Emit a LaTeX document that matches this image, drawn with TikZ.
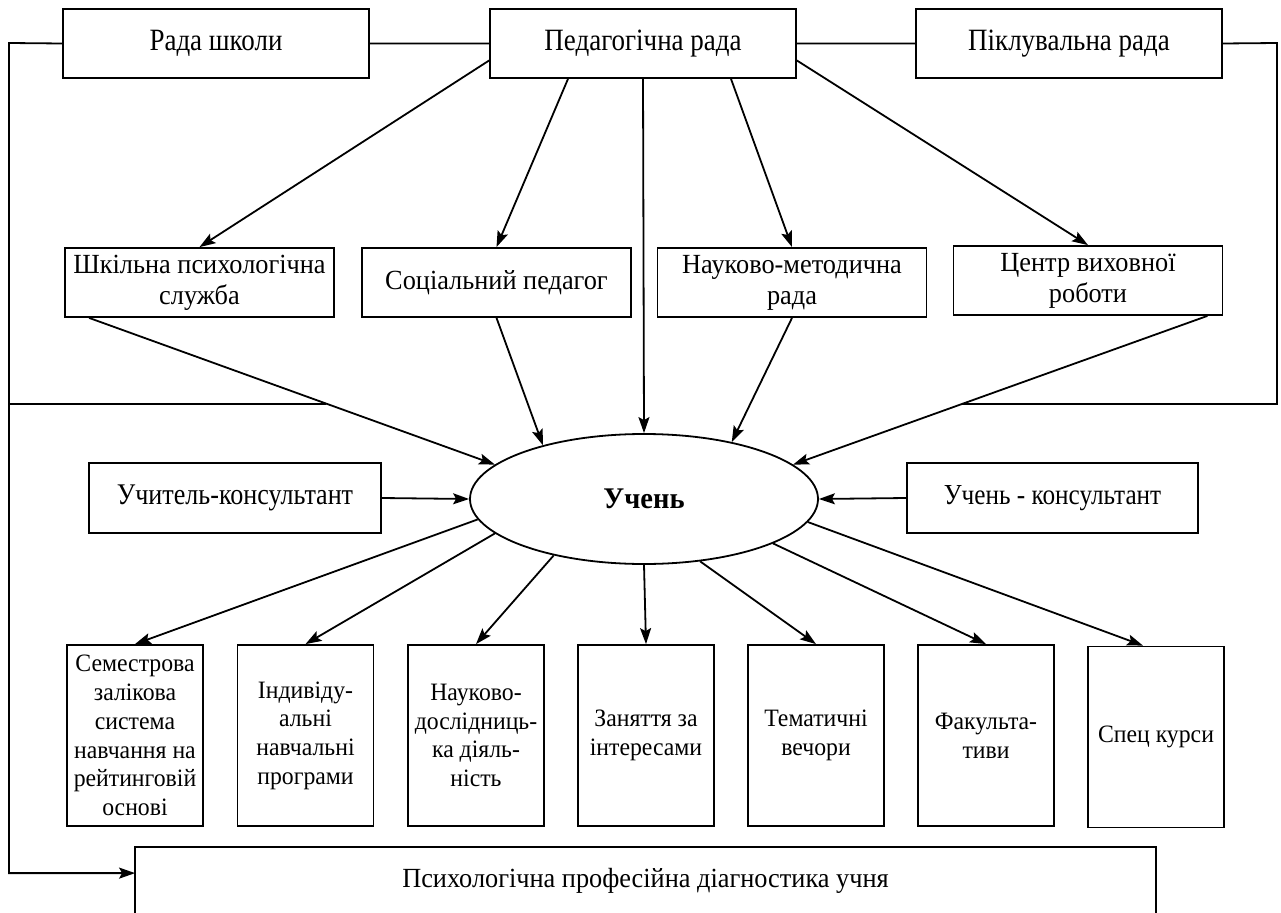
\documentclass[tikz,border=0pt]{standalone}
\usepackage{fontspec}
\setmainfont{Liberation Serif}[FakeStretch=0.95]
\newfontfamily\narrowfont{Liberation Serif}[FakeStretch=0.87]
\usetikzlibrary{arrows.meta,shapes.geometric}

\begin{document}
\begin{tikzpicture}[x=1pt,y=-1pt,line width=1.8pt,
    >={Stealth[length=16pt,width=11pt,inset=3pt]}]
\useasboundingbox (0,0) rectangle (1281,912);
\begin{scope}[every node/.style={draw,align=center,inner sep=0pt,
    font=\fontsize{27.7}{31}\selectfont}]
    \node[minimum width=306,minimum height=69,font=\narrowfont\fontsize{31}{31}\selectfont] (RS) at (216,43.5) {Рада школи};
    \node[minimum width=306,minimum height=69,font=\narrowfont\fontsize{31}{31}\selectfont] (PR) at (643,43.5) {Педагогічна рада};
    \node[minimum width=306,minimum height=69,font=\narrowfont\fontsize{31}{31}\selectfont] (PK) at (1069,43.5) {Піклувальна рада};
    \node[minimum width=269,minimum height=69] (SP) at (199.5,282.5) {Шкільна психологічна\\служба};
    \node[minimum width=269,minimum height=69] (SO) at (496.5,282.5) {Соціальний педагог};
    \node[minimum width=269,minimum height=69] (NM) at (792,282.5) {Науково-методична\\рада};
    \node[minimum width=269,minimum height=69] (CV) at (1088,280.5) {Центр виховної\\роботи};
    \node[minimum width=292,minimum height=70,font=\narrowfont\fontsize{30}{31}\selectfont] (UK) at (235,498) {Учитель-консультант};
    \node[minimum width=291,minimum height=70,font=\narrowfont\fontsize{29}{31}\selectfont] (SK) at (1052.5,498) {Учень - консультант};
    \node[ellipse,minimum width=348,minimum height=130,
        font=\fontsize{30}{31}\selectfont\bfseries] (U) at (644,499) {Учень};
\end{scope}
\begin{scope}[every node/.style={draw,align=center,inner sep=0pt,
    minimum width=136,minimum height=181,font=\fontsize{25}{28.7}\selectfont}]
    \node (B1) at (135,735.5) {Семестрова\\залікова\\система\\навчання на\\рейтинговій\\основі};
    \node (B2) at (305.5,735.5) {Індивіду-\\альні\\навчальні\\програми};
    \node (B3) at (476,735.5) {Науково-\\дослідниць-\\ка діяль-\\ність};
    \node (B4) at (646,735.5) {Заняття за\\інтересами};
    \node (B5) at (816,735.5) {Тематичні\\вечори};
    \node (B6) at (986,735.5) {Факульта-\\тиви};
    \node (B7) at (1156,737) {Спец курси};
\end{scope}
% open box at the bottom
\node[minimum width=1019,minimum height=66,inner sep=0pt,
    font=\fontsize{27.7}{31}\selectfont] (PD) at (645.5,881)
    {Психологічна професійна діагностика учня};
\draw (PD.south west) -- (PD.north west) -- (PD.north east) -- (PD.south east);

% frame lines
\coordinate (LC) at (9,43);
\coordinate (RC) at (1277,43);
\coordinate (LB) at (9,404);
\coordinate (LI) at (326,404);
\coordinate (RB) at (1277,404);
\coordinate (RI) at (962,404);
\draw (RS.east) -- (PR.west) (PR.east) -- (PK.west) (PK.east) -- (RC) -- (RB) -- (RI);
\draw (LB) -- (LI);
\draw[->] (RS.west) -- (LC) |- ([yshift=-26pt]PD.north west);

\begin{scope}[every edge/.style={draw,line width=1.8pt}]
    \path[->] ([yshift=-17pt]PR.west) edge (SP.north);
    \path[->] ([xshift=-75pt]PR.south) edge (SO.north);
    \path[->] (PR.south) edge (U.north);
    \path[->] ([xshift=88pt]PR.south) edge (NM.north);
    \path[->] ([yshift=-17pt]PR.east) edge (CV.north);
    \path[->] ([xshift=25pt]SP.south west) edge (U.167);
    \path[->] (SO.south) edge (U.152);
    \path[->] (NM.south) edge (U.33);
    \path[->] ([xshift=-16pt]CV.south east) edge (U.13);
    \path[->] (UK.east) edge (U.west);
    \path[->] (SK.west) edge (U.east);
    \path[->] (U.187) edge (B1.north);
    \path[->] (U.193) edge (B2.north);
    \path[->] (U.212) edge (B3.north);
    \path[->] (U.south) edge (B4.north);
    \path[->] (U.312) edge (B5.north);
    \path[->] (U.341) edge (B6.north);
    \path[->] (U.352) edge ([xshift=-13pt]B7.north);
\end{scope}
\end{tikzpicture}
\end{document}
